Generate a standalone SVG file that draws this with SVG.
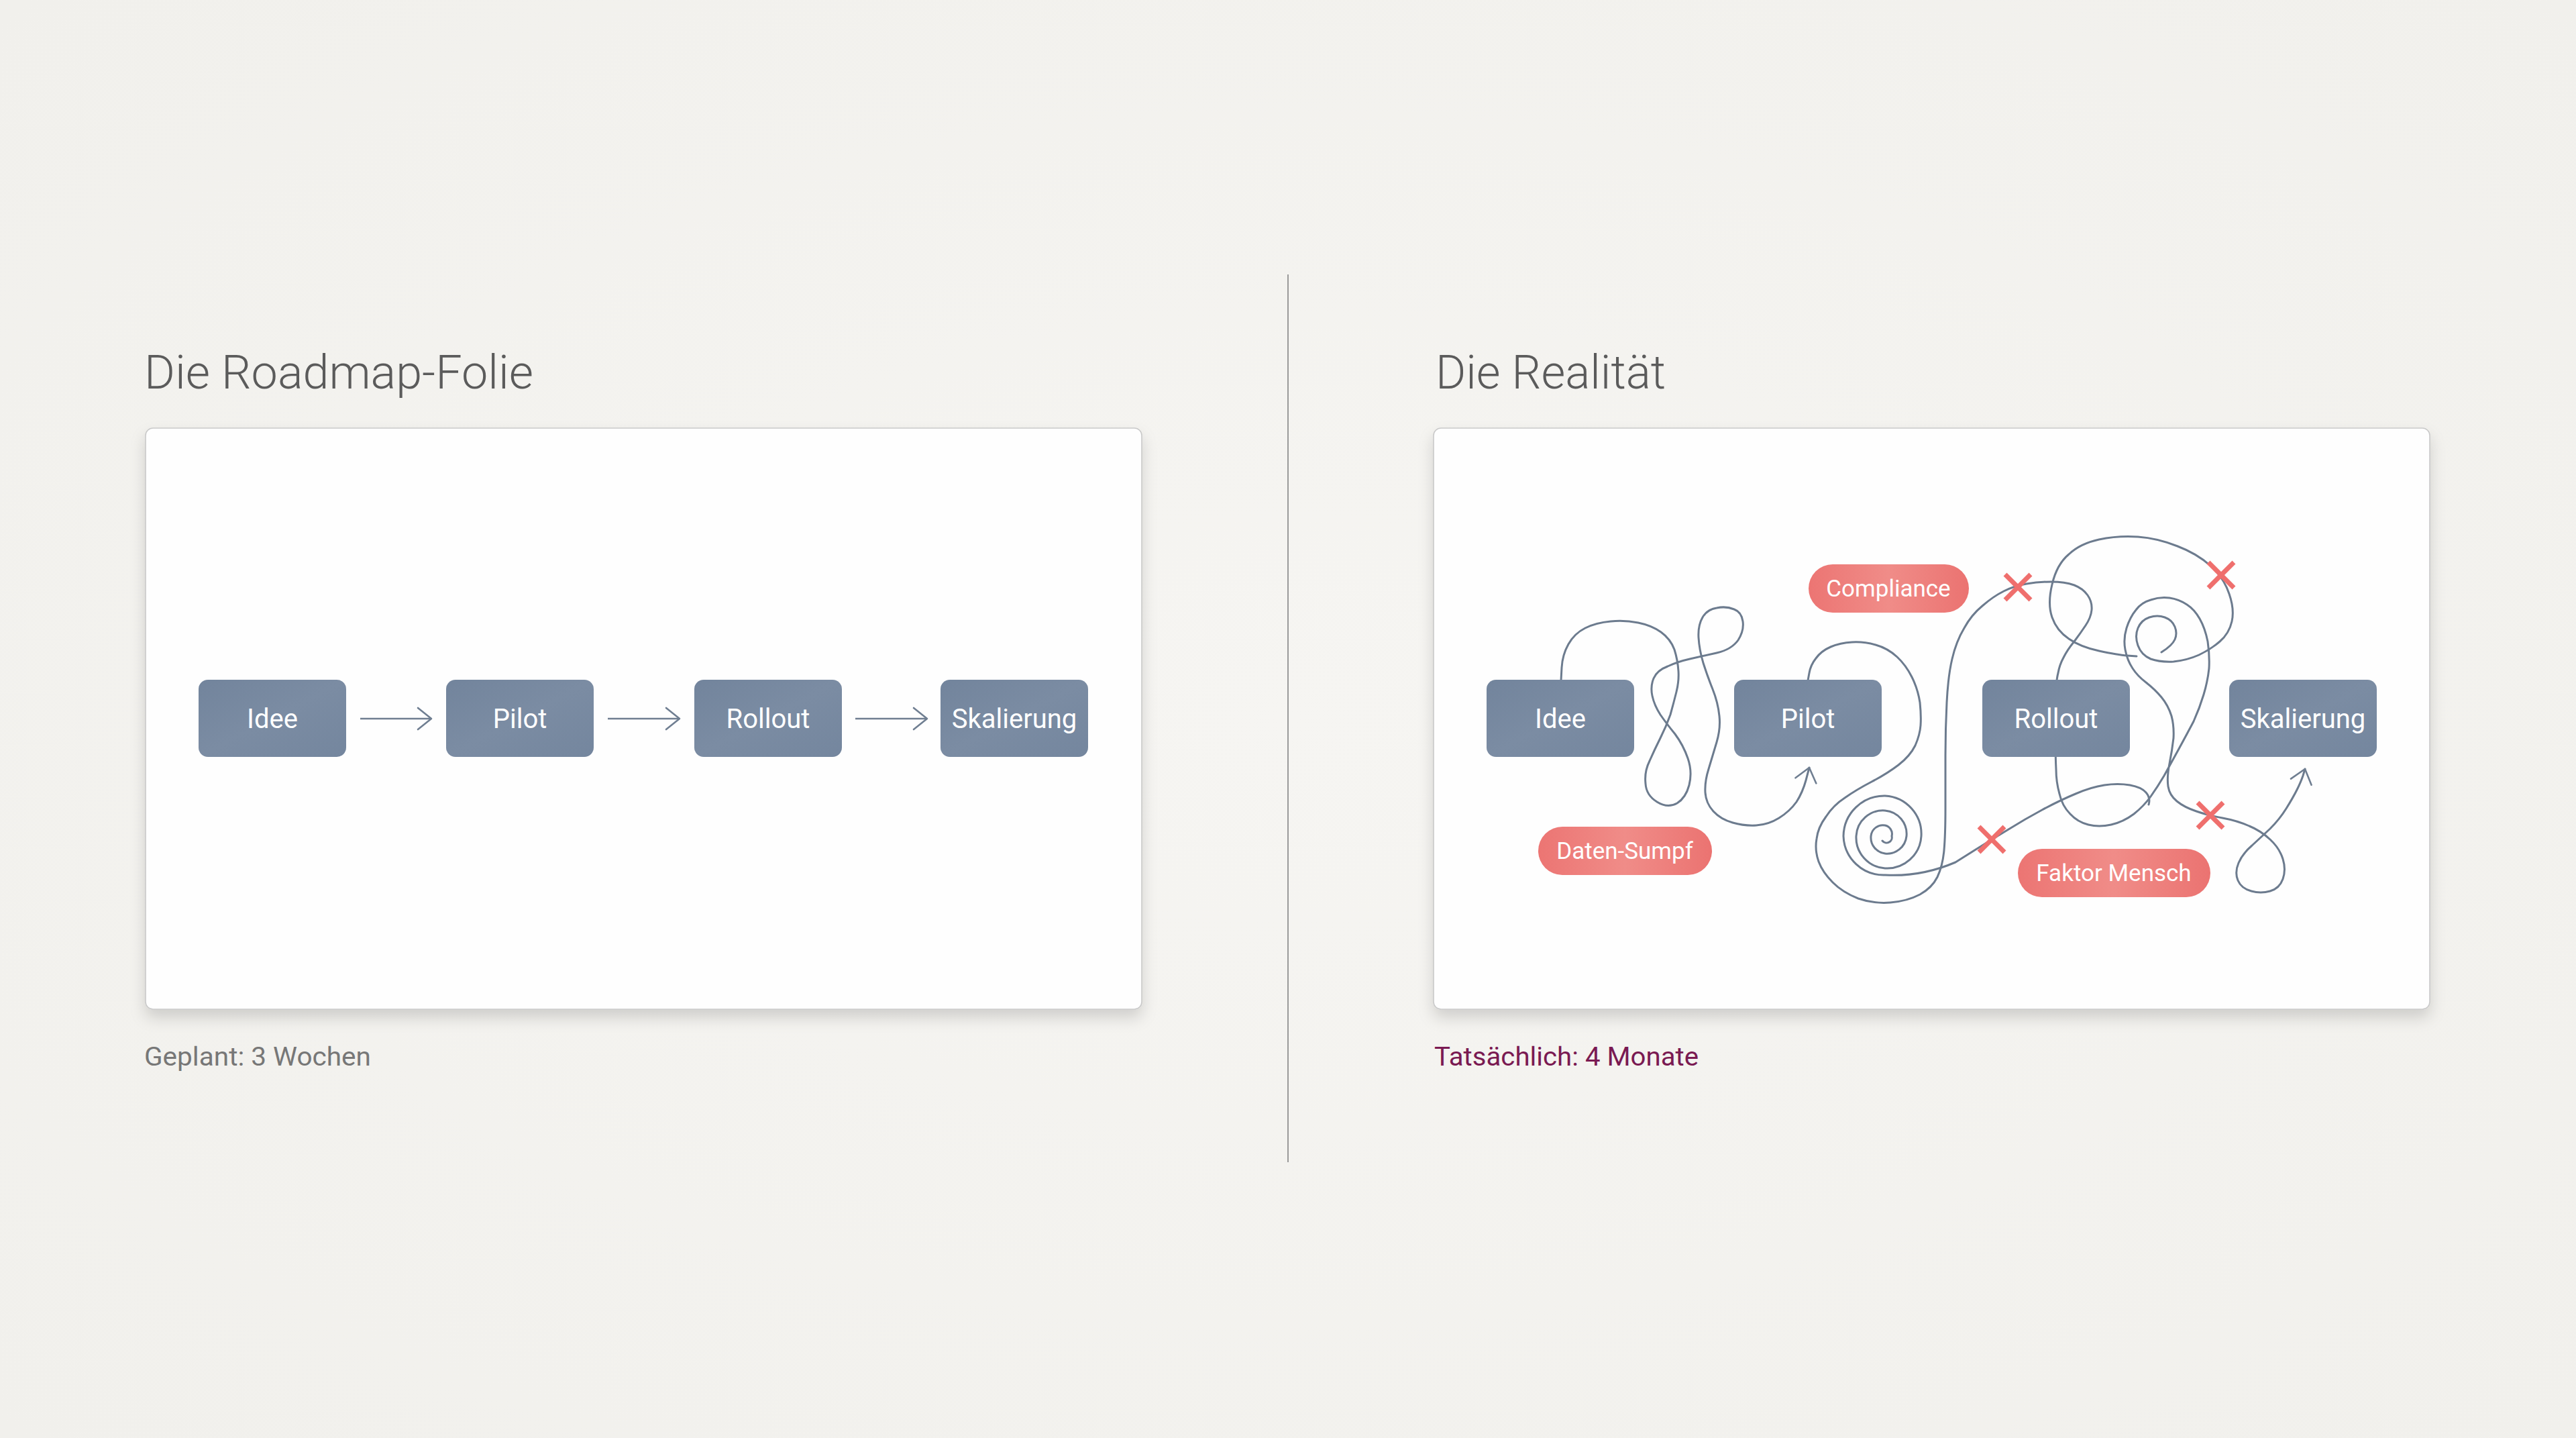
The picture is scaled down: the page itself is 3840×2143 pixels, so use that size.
<svg xmlns="http://www.w3.org/2000/svg" width="3840" height="2143" viewBox="0 0 3840 2143">
  <defs>
    <filter id="cardShadow" x="-5%" y="-5%" width="110%" height="115%">
      <feDropShadow dx="0" dy="12" stdDeviation="11" flood-color="#000" flood-opacity="0.15"/>
    </filter>
    <linearGradient id="boxGrad" x1="0" y1="0" x2="1" y2="1">
      <stop offset="0" stop-color="#72849c"/>
      <stop offset="0.5" stop-color="#7b8ca3"/>
      <stop offset="1" stop-color="#74869e"/>
    </linearGradient>
    <linearGradient id="pillGrad" x1="0" y1="0" x2="1" y2="0">
      <stop offset="0" stop-color="#ec7573"/>
      <stop offset="0.5" stop-color="#f08c88"/>
      <stop offset="1" stop-color="#eb7371"/>
    </linearGradient>
    <radialGradient id="bgGrad" cx="0.5" cy="0.5" r="0.7">
      <stop offset="0" stop-color="#f6f5f2"/>
      <stop offset="1" stop-color="#f1f0ec"/>
    </radialGradient>
    <marker id="chev" viewBox="0 0 24 36" refX="22" refY="18" markerWidth="24" markerHeight="36" orient="auto" markerUnits="userSpaceOnUse">
      <path d="M2,2 L22,18 L2,34" fill="none" stroke="#6f7e91" stroke-width="2.6" stroke-linecap="round" stroke-linejoin="round"/>
    </marker>
    <style>
      .card { fill: #fefefe; stroke: #c9c9c9; stroke-width: 1.6; }
      .title { font-family: Roboto, "Liberation Sans", sans-serif; font-weight: 300; font-size: 70px; fill: #5b5b5b; }
      .sub { font-family: Roboto, "Liberation Sans", sans-serif; font-size: 39px; }
      .box { fill: url(#boxGrad); }
      .boxtxt { font-family: Roboto, "Liberation Sans", sans-serif; font-size: 40px; fill: #ffffff; text-anchor: middle; }
      .pill { fill: url(#pillGrad); }
      .pilltxt { font-family: Roboto, "Liberation Sans", sans-serif; font-size: 35px; fill: #ffffff; text-anchor: middle; }
      .straight { fill: none; stroke: #6f7e91; stroke-width: 2.6; }
      .scribble { fill: none; stroke: #6c7b8e; stroke-width: 3; stroke-linecap: round; stroke-linejoin: round; }
      .x { stroke: #ef6f6d; stroke-width: 7; stroke-linecap: butt; }
    </style>
  </defs>

  <rect x="0" y="0" width="3840" height="2143" fill="url(#bgGrad)"/>

  <!-- divider -->
  <line x1="1920" y1="409" x2="1920" y2="1732" stroke="#9a9a9a" stroke-width="2"/>

  <!-- titles -->
  <text class="title" x="215" y="579" textLength="580" lengthAdjust="spacingAndGlyphs">Die Roadmap-Folie</text>
  <text class="title" x="2140" y="579" textLength="343" lengthAdjust="spacingAndGlyphs">Die Realität</text>

  <!-- cards -->
  <g id="card-left">
    <rect class="card" x="217" y="638" width="1485" height="866" rx="11" filter="url(#cardShadow)"/>
  </g>
  <g id="card-right">
    <rect class="card" x="2137" y="638" width="1485" height="866" rx="11" filter="url(#cardShadow)"/>
  </g>

  <!-- captions -->
  <text class="sub" x="215" y="1588" fill="#777777" textLength="338" lengthAdjust="spacingAndGlyphs">Geplant: 3 Wochen</text>
  <text class="sub" x="2138" y="1588" fill="#7a1a52" textLength="394" lengthAdjust="spacingAndGlyphs">Tatsächlich: 4 Monate</text>

  <!-- connectors -->
  <g id="connectors">
    <line class="straight" x1="537" y1="1071" x2="643" y2="1071" marker-end="url(#chev)"/>
    <line class="straight" x1="906" y1="1071" x2="1013" y2="1071" marker-end="url(#chev)"/>
    <line class="straight" x1="1275" y1="1071" x2="1382" y2="1071" marker-end="url(#chev)"/>

    <!-- Idee -> Pilot (figure eights) -->
    <path class="scribble" marker-end="url(#chev)" d="M2327,1014 L2328,995 Q2329,976 2338,960 Q2347,944 2363,936 Q2379,928 2401,926 Q2422,924 2442,928 Q2462,932 2476,942 Q2490,952 2496,968 Q2501,984 2502,1000 Q2503,1015 2499,1031 Q2495,1047 2490,1065 Q2484,1082 2475,1100 Q2466,1118 2459,1134 Q2451,1150 2453,1168 Q2454,1185 2470,1195 Q2486,1205 2500,1197 Q2513,1189 2518,1170 Q2523,1150 2516,1130 Q2509,1110 2497,1094 Q2484,1078 2475,1065 Q2466,1051 2463,1037 Q2460,1023 2465,1011 Q2470,999 2486,993 Q2501,986 2519,982 Q2537,978 2559,973 Q2581,968 2591,954 Q2600,940 2598,926 Q2596,912 2585,908 Q2573,903 2559,906 Q2545,908 2538,920 Q2531,932 2532,950 Q2533,968 2539,988 Q2545,1007 2553,1027 Q2561,1047 2563,1067 Q2565,1086 2559,1106 Q2553,1126 2547,1146 Q2541,1165 2542,1181 Q2543,1197 2554,1209 Q2565,1221 2583,1226 Q2600,1231 2618,1230 Q2636,1229 2652,1219 Q2668,1209 2678,1195 Q2687,1181 2692,1163 L2697,1144"/>

    <!-- Pilot -> around -> Rollout -> Skalierung -->
    <path class="scribble" marker-end="url(#chev)" d="M2695,1014 L2697,1003 Q2699,991 2707,981 Q2715,970 2729,964 Q2743,958 2761,957 Q2778,956 2796,961 Q2814,966 2828,979 Q2841,991 2850,1009 Q2859,1027 2862,1047 Q2864,1067 2863,1081 Q2862,1095 2855,1111 Q2847,1127 2830,1140 Q2813,1153 2790,1165 Q2767,1177 2750,1189 Q2733,1200 2722,1217 Q2710,1233 2708,1250 Q2705,1267 2711,1284 Q2717,1300 2732,1315 Q2747,1330 2770,1339 Q2793,1347 2818,1345 Q2843,1343 2862,1333 Q2880,1323 2888,1307 Q2896,1290 2898,1267 Q2900,1244 2900,1205 Q2900,1165 2900,1126 Q2900,1086 2902,1047 Q2904,1007 2910,982 Q2916,956 2928,936 Q2939,916 2955,903 Q2971,889 2987,881 Q3003,873 3021,870 Q3038,867 3058,867 Q3078,867 3092,872 Q3105,877 3112,887 Q3119,897 3118,909 Q3117,920 3109,932 Q3101,944 3092,956 Q3082,968 3076,980 Q3070,991 3068,1003 Q3065,1014 3064,1042 Q3064,1070 3064,1099 Q3064,1128 3065,1147 Q3065,1165 3070,1183 Q3074,1201 3086,1213 Q3097,1225 3113,1229 Q3129,1233 3147,1229 Q3165,1225 3181,1213 Q3196,1201 3206,1187 Q3216,1173 3226,1156 Q3236,1138 3248,1116 Q3260,1094 3270,1075 Q3279,1055 3285,1035 Q3291,1015 3293,996 Q3294,976 3291,956 Q3287,936 3279,922 Q3271,908 3260,901 Q3248,893 3234,891 Q3220,889 3206,894 Q3192,898 3184,909 Q3175,920 3170,936 Q3165,952 3168,968 Q3171,984 3179,996 Q3186,1007 3199,1017 Q3212,1027 3222,1039 Q3232,1051 3237,1067 Q3241,1082 3240,1100 Q3238,1118 3234,1138 Q3230,1158 3232,1172 Q3234,1185 3245,1194 Q3256,1203 3274,1209 Q3291,1215 3313,1219 Q3335,1223 3353,1231 Q3370,1238 3384,1251 Q3398,1264 3403,1280 Q3408,1296 3403,1310 Q3398,1324 3384,1328 Q3370,1332 3356,1328 Q3341,1324 3336,1312 Q3331,1300 3337,1286 Q3343,1272 3357,1260 Q3370,1248 3384,1235 Q3398,1221 3408,1205 Q3418,1189 3424,1177 Q3430,1165 3433,1156 L3436,1146"/>

    <!-- spiral and line past Faktor Mensch -->
    <path class="scribble" d="M2806,1253 A8 8 0 0 0 2820,1246 A13 13 0 0 0 2810,1230 A18 18 0 0 0 2789,1246 A24 24 0 0 0 2810,1272 A29 29 0 0 0 2842,1246 A35 35 0 0 0 2810,1208 A40 40 0 0 0 2767,1246 A46 46 0 0 0 2810,1294 A51 51 0 0 0 2864,1246 A57 57 0 0 0 2810,1186 A61 61 0 0 0 2748,1246 A60 60 0 0 0 2810,1304 C2845,1306 2880,1300 2915,1285 L2942,1268 Q2969,1251 2994,1236 Q3018,1221 3044,1207 Q3070,1193 3094,1183 Q3117,1173 3137,1170 Q3157,1167 3175,1170 Q3192,1173 3199,1181 Q3206,1189 3203,1199"/>

    <!-- big loop with inner curl -->
    <path class="scribble" d="M3185,978 L3171,977 Q3157,976 3129,970 Q3101,964 3084,952 Q3066,940 3059,920 Q3052,900 3059,871 Q3066,841 3084,826 Q3101,810 3129,804 Q3157,798 3187,800 Q3216,802 3246,814 Q3275,825 3295,843 Q3315,861 3323,885 Q3331,908 3327,926 Q3323,944 3309,956 Q3295,968 3278,976 Q3260,984 3240,986 Q3220,987 3206,982 Q3192,976 3187,962 Q3182,948 3187,936 Q3192,924 3204,920 Q3216,916 3227,920 Q3238,924 3242,934 Q3246,944 3242,953 Q3238,962 3222,972"/>
  </g>

  <!-- left nodes -->
  <g id="plan-idee">
    <rect class="box" x="296" y="1013" width="220" height="115" rx="14"/>
    <text class="boxtxt" x="406" y="1085">Idee</text>
  </g>
  <g id="plan-pilot">
    <rect class="box" x="665" y="1013" width="220" height="115" rx="14"/>
    <text class="boxtxt" x="775" y="1085">Pilot</text>
  </g>
  <g id="plan-rollout">
    <rect class="box" x="1035" y="1013" width="220" height="115" rx="14"/>
    <text class="boxtxt" x="1145" y="1085">Rollout</text>
  </g>
  <g id="plan-skalierung">
    <rect class="box" x="1402" y="1013" width="220" height="115" rx="14"/>
    <text class="boxtxt" x="1512" y="1085">Skalierung</text>
  </g>

  <!-- right nodes -->
  <g id="real-idee">
    <rect class="box" x="2216" y="1013" width="220" height="115" rx="14"/>
    <text class="boxtxt" x="2326" y="1085">Idee</text>
  </g>
  <g id="real-pilot">
    <rect class="box" x="2585" y="1013" width="220" height="115" rx="14"/>
    <text class="boxtxt" x="2695" y="1085">Pilot</text>
  </g>
  <g id="real-rollout">
    <rect class="box" x="2955" y="1013" width="220" height="115" rx="14"/>
    <text class="boxtxt" x="3065" y="1085">Rollout</text>
  </g>
  <g id="real-skalierung">
    <rect class="box" x="3323" y="1013" width="220" height="115" rx="14"/>
    <text class="boxtxt" x="3433" y="1085">Skalierung</text>
  </g>

  <!-- obstacle pills -->
  <g id="pill-compliance">
    <rect class="pill" x="2696" y="841" width="239" height="72" rx="36"/>
    <text class="pilltxt" x="2815" y="889">Compliance</text>
  </g>
  <g id="pill-daten-sumpf">
    <rect class="pill" x="2293" y="1232" width="259" height="72" rx="36"/>
    <text class="pilltxt" x="2422" y="1280">Daten-Sumpf</text>
  </g>
  <g id="pill-faktor-mensch">
    <rect class="pill" x="3008" y="1265" width="287" height="72" rx="36"/>
    <text class="pilltxt" x="3151" y="1313">Faktor Mensch</text>
  </g>

  <!-- failure marks -->
  <g id="marks">
    <path class="x" d="M2989,856 L3027,894 M3027,856 L2989,894"/>
    <path class="x" d="M3292,838 L3330,876 M3330,838 L3292,876"/>
    <path class="x" d="M2950,1232 L2988,1270 M2988,1232 L2950,1270"/>
    <path class="x" d="M3276,1196 L3314,1234 M3314,1196 L3276,1234"/>
  </g>
</svg>
